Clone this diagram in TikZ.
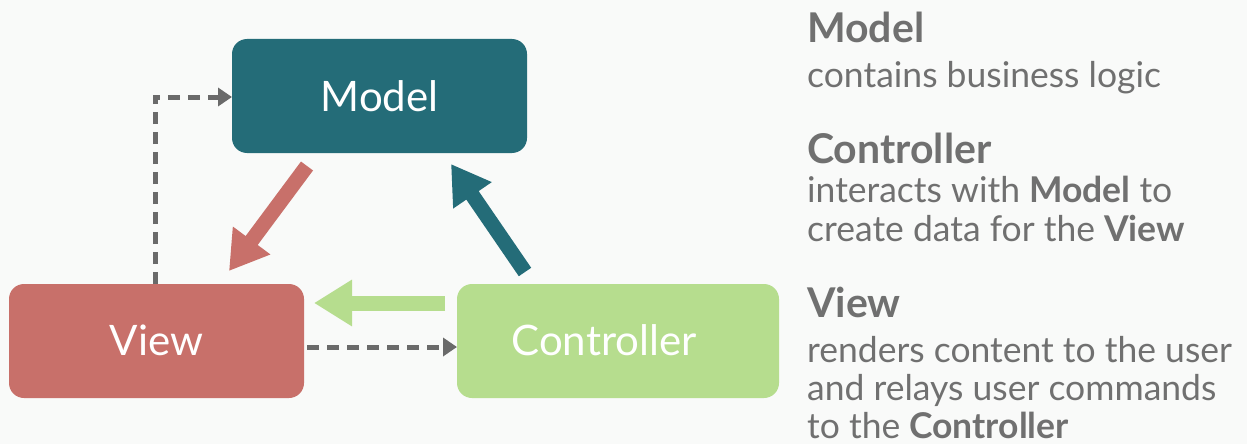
\documentclass[tikz,border=0pt]{standalone}
\usepackage{fontspec}
\setmainfont{Lato}
\usetikzlibrary{arrows.meta}
\definecolor{bg}{HTML}{F9FAF9}
\definecolor{teal}{HTML}{246C78}
\definecolor{redv}{HTML}{C8706A}
\definecolor{greenc}{HTML}{B6DD8E}
\definecolor{txtgray}{HTML}{707070}
\definecolor{dashgray}{HTML}{6A6A6A}
\tikzset{
  box/.style={inner sep=0pt, text=white, font=\fontsize{42}{44}\selectfont},
  fatarrow/.style={line width=15pt, -{Triangle[width=44pt,length=38pt]}},
  dasharrow/.style={draw=dashgray, line width=5pt, dash pattern=on 12pt off 8pt, -{Triangle[width=18pt,length=14pt]}},
  head/.style={anchor=base west, inner sep=0pt, text=txtgray, font=\bfseries\fontsize{41}{44}\selectfont},
  body/.style={anchor=base west, inner sep=0pt, text=txtgray, font=\fontsize{35.5}{40}\selectfont},
}
\begin{document}
\begin{tikzpicture}[x=1pt,y=-1pt]
\fill[bg] (0,0) rectangle (1247,444);
\useasboundingbox (0,0) rectangle (1247,444);
% boxes
\fill[teal, rounded corners=15pt] (232,39) rectangle (527,153);
\node[box] (model) at (379.5,96) {Model};
\fill[redv, rounded corners=15pt] (9,284) rectangle (304,398);
\node[box] (view) at (156.5,340) {View};
\fill[greenc, rounded corners=15pt] (457,284) rectangle (779,398);
\node[box] (ctrl) at (604,340) {Controller};
% named anchor coordinates
\coordinate (mW) at (232,97);
\coordinate (vN) at (155,284);
\coordinate (vE) at (307,347);
\coordinate (cW) at (457,347);
\coordinate (r1) at (307,166);
\coordinate (r2) at (229,271);
\coordinate (t1) at (525,272);
\coordinate (t2) at (451,164);
\coordinate (g1) at (445,303);
\coordinate (g2) at (314,303);
% fat arrows
\draw[fatarrow, draw=redv] (r1) -- (r2);
\draw[fatarrow, draw=teal] (t1) -- (t2);
\draw[fatarrow, draw=greenc] (g1) -- (g2);
% dashed arrows
\draw[dasharrow] (vN) |- (mW);
\draw[dasharrow] (vE) -- (cW);
% text
\node[head] (h1) at (807,43) {Model};
\node[body] (b1) at (807,88) {contains business logic};
\node[head] (h2) at (807,163) {Controller};
\node[body] (b2) at (807,202) {interacts with \textbf{Model} to};
\node[body] (b3) at (807,241) {create data for the \textbf{View}};
\node[head] (h3) at (807,317) {View};
\node[body] (b4) at (807,362) {renders content to the user};
\node[body] (b5) at (807,400) {and relays user commands};
\node[body] (b6) at (807,438) {to the \textbf{Controller}};
\end{tikzpicture}
\end{document}
